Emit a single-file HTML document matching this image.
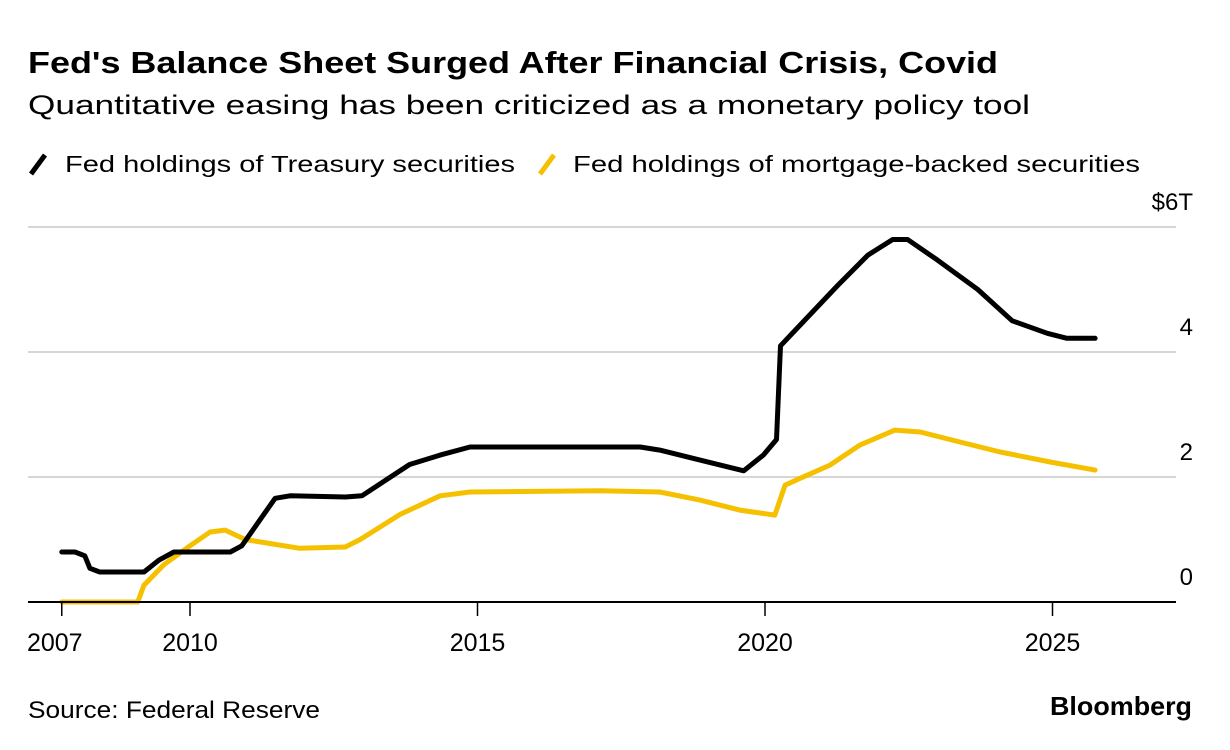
<!DOCTYPE html>
<html><head><meta charset="utf-8"><style>
html,body{margin:0;padding:0;background:#fff;}
svg{display:block;font-family:"Liberation Sans",Arial,sans-serif;}
</style></head><body>
<svg id="chart" width="1230" height="750" viewBox="0 0 1230 750">
<text x="28" y="73" font-size="31" font-weight="bold" fill="#000" textLength="970" lengthAdjust="spacingAndGlyphs">Fed's Balance Sheet Surged After Financial Crisis, Covid</text>
<text x="28" y="114" font-size="27" fill="#000" textLength="1002" lengthAdjust="spacingAndGlyphs">Quantitative easing has been criticized as a monetary policy tool</text>
<g>
<line x1="31" y1="174" x2="45" y2="155" stroke="#000" stroke-width="5"/>
<text x="65" y="172" font-size="23" fill="#000" textLength="450" lengthAdjust="spacingAndGlyphs">Fed holdings of Treasury securities</text>
<line x1="540" y1="174" x2="554" y2="155" stroke="#f5c000" stroke-width="5"/>
<text x="573" y="172" font-size="23" fill="#000" textLength="567" lengthAdjust="spacingAndGlyphs">Fed holdings of mortgage-backed securities</text>
</g>
<g id="grid"></g>
<g id="series"></g>
<g id="xaxis"></g>
<text x="28" y="718" font-size="24" fill="#000" textLength="292" lengthAdjust="spacingAndGlyphs">Source: Federal Reserve</text>
<text x="1050" y="715" font-size="26" font-weight="bold" fill="#000" textLength="142" lengthAdjust="spacingAndGlyphs">Bloomberg</text>
</svg>
<script>
const yTicks=[0,2,4,6];
const yTickLabels=["0","2","4","$6T"];
const xTicks=[2007.77,2010,2015,2020,2025];
const xTickLabels=["2007","2010","2015","2020","2025"];
const treasuryYears=[2007.77,2008.0,2008.17,2008.26,2008.43,2009.2,2009.46,2009.72,2010.7,2010.9,2011.48,2011.74,2012.7,2012.99,2013.82,2014.35,2014.87,2017.83,2018.17,2018.87,2019.63,2019.97,2020.2,2020.27,2020.58,2021.27,2021.79,2022.22,2022.48,2023.0,2023.7,2024.3,2024.91,2025.25,2025.74];
const treasuryValues=[0.8,0.8,0.74,0.54,0.48,0.48,0.67,0.8,0.8,0.9,1.66,1.7,1.68,1.7,2.2,2.35,2.48,2.48,2.43,2.27,2.1,2.35,2.6,4.1,4.4,5.07,5.55,5.8,5.8,5.47,5.0,4.5,4.3,4.22,4.22];
const mbsYears=[2007.77,2009.09,2009.2,2009.55,2010.0,2010.35,2010.61,2010.96,2011.91,2012.7,2012.96,2013.65,2014.35,2014.87,2017.13,2018.17,2018.87,2019.56,2020.17,2020.35,2020.61,2021.13,2021.65,2022.26,2022.7,2023.39,2024.09,2024.96,2025.74];
const mbsValues=[0,0,0.27,0.6,0.9,1.12,1.15,1.0,0.86,0.88,1.0,1.4,1.7,1.76,1.78,1.76,1.63,1.47,1.39,1.87,1.98,2.19,2.51,2.75,2.72,2.56,2.4,2.24,2.11];

const NS="http://www.w3.org/2000/svg";
const X0=190,XPER=57.5,Y0=602,YPER=62.5;
function xs(t){return X0+(t-2010)*XPER;}
function ys(v){return Y0-v*YPER;}
const grid=document.getElementById('grid');
yTicks.forEach((v,i)=>{
  if(v>0){
    const l=document.createElementNS(NS,'line');
    l.setAttribute('x1',28);l.setAttribute('x2',1176);
    l.setAttribute('y1',ys(v));l.setAttribute('y2',ys(v));
    l.setAttribute('stroke','#d6d6d6');l.setAttribute('stroke-width',2);
    
    
    grid.appendChild(l);
  }
  const t=document.createElementNS(NS,'text');
  t.setAttribute('x',1193);t.setAttribute('y',ys(v)-17);
  t.setAttribute('text-anchor','end');t.setAttribute('font-size',24);
  t.textContent=yTickLabels[i];
  
  
  grid.appendChild(t);
});
const ser=document.getElementById('series');
function line(xa,va,color,name){
  const p=document.createElementNS(NS,'path');
  p.setAttribute('d',xa.map((t,i)=>(i?'L':'M')+xs(t).toFixed(1)+','+ys(va[i]).toFixed(1)).join(''));
  p.setAttribute('fill','none');p.setAttribute('stroke',color);p.setAttribute('stroke-width',5);
  p.setAttribute('stroke-linejoin','round');p.setAttribute('stroke-linecap','round');
  
  
  ser.appendChild(p);
}
line(mbsYears,mbsValues,'#f5c000','mbs-line');
line(treasuryYears,treasuryValues,'#000','treasury-line');
const xa=document.getElementById('xaxis');
const ax=document.createElementNS(NS,'line');
ax.setAttribute('x1',28);ax.setAttribute('x2',1176);ax.setAttribute('y1',Y0);ax.setAttribute('y2',Y0);
ax.setAttribute('stroke','#000');ax.setAttribute('stroke-width',2);


xa.appendChild(ax);
xTicks.forEach((t,i)=>{
  const tk=document.createElementNS(NS,'line');
  tk.setAttribute('x1',xs(t));tk.setAttribute('x2',xs(t));tk.setAttribute('y1',Y0);tk.setAttribute('y2',Y0+14);
  tk.setAttribute('stroke','#000');tk.setAttribute('stroke-width',1.5);
  
  
  xa.appendChild(tk);
  const lb=document.createElementNS(NS,'text');
  lb.setAttribute('x',i===0?xs(t)-7:xs(t));lb.setAttribute('y',651);
  lb.setAttribute('text-anchor','middle');lb.setAttribute('font-size',25);
  lb.textContent=xTickLabels[i];
  
  
  xa.appendChild(lb);
});
</script>
</body></html>
